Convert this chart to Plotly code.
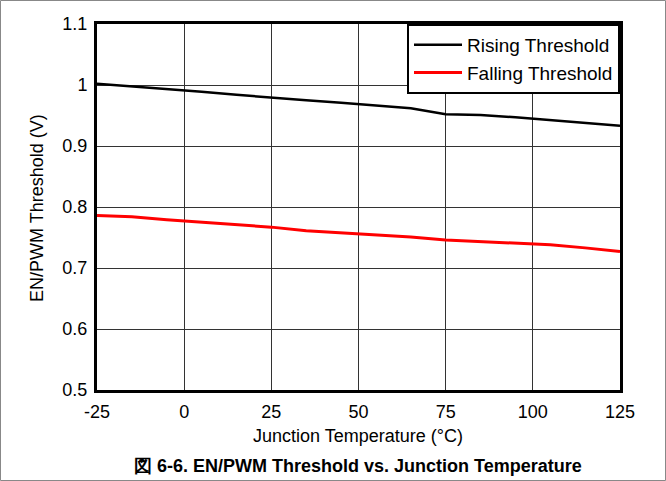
import plotly.graph_objects as go

temps = [-25, -15, -5, 5, 15, 25, 35, 45, 55, 65, 75, 85, 95, 105, 115, 125]
rising = [1.002, 0.998, 0.994, 0.989, 0.984, 0.979, 0.975, 0.971, 0.966, 0.962,
          0.952, 0.951, 0.947, 0.942, 0.937, 0.933]
falling = [0.786, 0.784, 0.779, 0.775, 0.772, 0.767, 0.761, 0.758, 0.755, 0.751,
           0.746, 0.743, 0.741, 0.738, 0.733, 0.727]
x_ticks = [-25, 0, 25, 50, 75, 100, 125]
y_ticks = [0.5, 0.6, 0.7, 0.8, 0.9, 1.0, 1.1]
y_tick_text = ["0.5", "0.6", "0.7", "0.8", "0.9", "1", "1.1"]

FONT = "Liberation Sans, Arial, sans-serif"

fig = go.Figure()
fig.add_trace(go.Scatter(x=temps, y=rising, mode="lines", name="Rising Threshold",
                         line=dict(color="black", width=2.5)))
fig.add_trace(go.Scatter(x=temps, y=falling, mode="lines", name="Falling Threshold",
                         line=dict(color="red", width=3)))

L, R, T, B = 97, 46, 24, 91
W, H = 666, 481
pw, ph = W - L - R, H - T - B

def px_x(p):
    return (p - L) / pw

def px_y(p):
    return (H - B - p) / ph

fig.update_layout(
    width=W, height=H,
    margin=dict(l=L, r=R, t=T, b=B),
    paper_bgcolor="white", plot_bgcolor="white",
    font=dict(family=FONT, size=18, color="black"),
    showlegend=True,
    legend=dict(x=1, y=1, xanchor="right", yanchor="top",
                bgcolor="white", bordercolor="black", borderwidth=2,
                font=dict(size=19), tracegroupgap=0, itemwidth=48),
    xaxis=dict(range=[-25, 125], tickmode="array", tickvals=x_ticks,
               ticktext=[str(v) for v in x_ticks],
               showgrid=True, gridcolor="#333", gridwidth=1,
               zeroline=False, showline=True, linecolor="black", linewidth=3,
               mirror=True, ticks="", ticklen=0, tickfont=dict(size=18),
               ticklabelstandoff=3),
    yaxis=dict(range=[0.5, 1.1], tickmode="array", tickvals=y_ticks,
               ticktext=y_tick_text,
               showgrid=True, gridcolor="#333", gridwidth=1,
               zeroline=False, showline=True, linecolor="black", linewidth=3,
               mirror=True, ticks="", ticklen=0, tickfont=dict(size=18),
               ticklabelstandoff=3),
    annotations=[
        dict(text="Junction Temperature (°C)", xref="paper", yref="paper",
             x=px_x(358), y=px_y(436), xanchor="center", yanchor="middle",
             showarrow=False, font=dict(size=18)),
        dict(text="EN/PWM Threshold (V)", xref="paper", yref="paper",
             x=px_x(37), y=px_y(208), xanchor="center", yanchor="middle",
             textangle=-90, showarrow=False, font=dict(size=18)),
        dict(text="<b>図 6-6. EN/PWM Threshold vs. Junction Temperature</b>",
             xref="paper", yref="paper",
             x=px_x(358), y=px_y(466), xanchor="center", yanchor="middle",
             showarrow=False, font=dict(size=18)),
    ],
    shapes=[
        dict(type="rect", xref="paper", yref="paper",
             x0=px_x(0.5), x1=px_x(665.5), y0=px_y(480.5), y1=px_y(0.5),
             line=dict(color="#888", width=1), layer="below"),
    ],
)

fig.write_html("out.html")
